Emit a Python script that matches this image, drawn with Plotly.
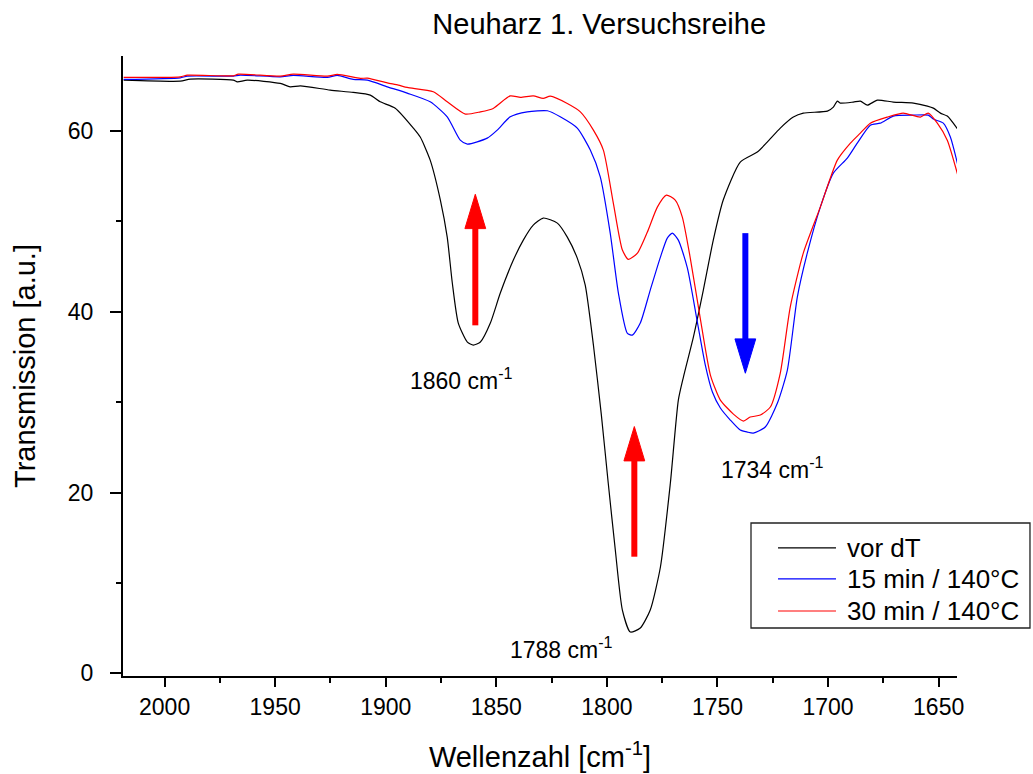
import plotly.graph_objects as go

# spectra (wavenumber in cm-1, transmission in a.u.)
x_vor = [2018.5, 1992.9, 1988.4, 1968.9, 1967.1, 1962.6, 1947.7, 1943.2, 1938.6, 1925.1,
         1914.7, 1907.0, 1902.5, 1895.7, 1887.5, 1884.4, 1879.9, 1875.3, 1872.2, 1869.9,
         1867.2, 1863.1, 1860.4, 1857.2, 1852.7, 1848.2, 1842.3, 1837.8, 1833.3, 1828.8,
         1822.4, 1817.9, 1813.4, 1809.8, 1806.1, 1802.5, 1799.4, 1796.2, 1793.0, 1789.4,
         1784.9, 1780.4, 1775.8, 1771.3, 1767.7, 1765.4, 1760.9, 1756.4, 1751.9, 1747.4,
         1739.7, 1732.0, 1727.5, 1721.6, 1715.7, 1711.2, 1700.3, 1697.6, 1695.8, 1694.5,
         1688.6, 1685.4, 1682.2, 1677.7, 1670.5, 1661.4, 1655.1, 1652.4, 1649.2, 1646.1,
         1641.1]
y_vor = [65.63, 65.52, 65.74, 65.63, 65.44, 65.63, 65.27, 64.89, 65.00, 64.52,
         64.27, 63.97, 63.23, 62.53, 60.32, 59.33, 56.78, 52.36, 48.26, 43.18,
         38.75, 36.65, 36.32, 36.65, 38.75, 42.07, 45.72, 47.93, 49.59, 50.37,
         49.81, 48.26, 45.94, 42.95, 36.32, 28.57, 21.05, 13.64, 7.00, 4.57,
         5.01, 7.00, 11.76, 21.05, 30.23, 32.78, 37.20, 42.40, 47.93, 52.36,
         56.56, 57.67, 58.77, 60.32, 61.54, 61.98, 62.20, 62.64, 63.31, 63.09,
         63.20, 63.31, 62.87, 63.42, 63.20, 63.09, 62.76, 62.53, 61.98, 61.65,
         60.10]

x_15 = [2018.5, 1992.9, 1989.7, 1968.9, 1965.8, 1947.7, 1941.8, 1926.4, 1921.9, 1914.7,
        1908.3, 1899.3, 1894.3, 1890.3, 1879.9, 1872.2, 1866.3, 1863.1, 1854.1, 1849.6,
        1843.7, 1836.0, 1826.9, 1821.1, 1813.4, 1807.5, 1803.0, 1798.5, 1794.8, 1790.8,
        1788.5, 1784.9, 1780.4, 1775.8, 1772.7, 1770.4, 1767.7, 1763.6, 1759.1, 1755.5,
        1752.3, 1748.7, 1744.2, 1739.7, 1736.5, 1733.8, 1728.4, 1722.9, 1718.4, 1713.9,
        1709.4, 1703.5, 1697.6, 1691.3, 1686.8, 1680.9, 1676.4, 1670.5, 1661.4, 1654.7,
        1652.4, 1647.9, 1644.7, 1641.1]
y_15 = [65.71, 65.89, 66.07, 66.07, 66.18, 66.00, 66.15, 65.93, 66.15, 65.71,
        65.63, 64.89, 64.52, 64.19, 63.23, 61.57, 58.99, 58.55, 59.21, 60.10,
        61.57, 62.12, 62.24, 61.57, 60.32, 57.89, 54.93, 48.71, 42.07, 37.64,
        37.42, 38.75, 42.40, 46.05, 48.15, 48.71, 47.93, 44.83, 38.86, 34.10,
        31.12, 29.35, 28.02, 26.91, 26.69, 26.58, 27.25, 29.90, 33.55, 41.63,
        46.49, 51.58, 55.34, 57.00, 58.66, 60.65, 60.87, 61.65, 61.76, 61.76,
        61.32, 60.87, 59.33, 56.01]

x_30 = [2018.5, 1992.9, 1989.7, 1968.9, 1966.7, 1947.7, 1941.8, 1926.4, 1921.9, 1911.5,
        1908.3, 1899.3, 1894.3, 1890.3, 1878.5, 1872.2, 1864.0, 1857.2, 1851.4, 1843.7,
        1839.1, 1833.3, 1828.8, 1825.6, 1817.9, 1812.0, 1806.1, 1801.6, 1797.1, 1793.0,
        1790.3, 1786.2, 1781.7, 1777.2, 1773.1, 1769.1, 1765.9, 1762.3, 1757.8, 1753.2,
        1748.7, 1742.8, 1738.3, 1735.2, 1730.6, 1726.1, 1721.6, 1717.1, 1711.2, 1703.5,
        1695.8, 1689.9, 1685.4, 1680.9, 1673.2, 1666.0, 1658.3, 1654.7, 1650.6, 1646.1,
        1641.1]
y_30 = [65.93, 66.00, 66.18, 66.11, 66.29, 66.07, 66.29, 66.07, 66.26, 65.82,
        65.85, 65.33, 65.08, 64.82, 64.34, 63.23, 61.87, 62.12, 62.50, 63.89,
        63.72, 63.89, 63.61, 63.86, 63.05, 62.12, 60.10, 57.89, 52.03, 46.83,
        45.80, 46.49, 48.82, 51.58, 52.91, 52.36, 50.48, 45.94, 39.30, 33.00,
        30.23, 28.68, 27.91, 28.35, 28.57, 29.46, 33.22, 40.52, 46.49, 51.58,
        56.78, 58.66, 59.77, 60.87, 61.54, 61.98, 61.54, 61.98, 60.87, 58.99,
        54.90]

series_names = ["vor dT", "15 min / 140°C", "30 min / 140°C"]
series_colors = ["black", "blue", "red"]

# peak labels
peak_labels = ["1860 cm<sup>-1</sup>", "1788 cm<sup>-1</sup>", "1734 cm<sup>-1</sup>"]
peak_label_x = [1889.8, 1844.6, 1749.5]
peak_label_y = [32.6, 2.8, 22.7]

# arrows: position, tail and tip
arrow_x = [1859.5, 1787.6, 1737.4]
arrow_tail = [38.5, 12.9, 48.7]
arrow_tip = [53.0, 27.3, 33.2]
arrow_colors = ["red", "red", "blue"]

FONT = "Liberation Sans, Arial, sans-serif"

fig = go.Figure()
for xs, ys, name, col in zip([x_vor, x_15, x_30], [y_vor, y_15, y_30], series_names, series_colors):
    fig.add_trace(go.Scatter(x=xs, y=ys, mode="lines", name=name, showlegend=False,
                             line=dict(color=col, width=1.2, shape="spline", smoothing=0.6)))

head_len = 3.8   # in y units
head_half = 4.7  # in x units
for ax_, tail, tip, col in zip(arrow_x, arrow_tail, arrow_tip, arrow_colors):
    direction = 1 if tip > tail else -1
    base = tip - direction * head_len
    fig.add_shape(type="line", xref="x", yref="y", x0=ax_, x1=ax_, y0=tail, y1=base + direction * 0.3,
                  line=dict(color=col, width=6))
    fig.add_shape(type="path", xref="x", yref="y",
                  path=f"M {ax_ - head_half},{base} L {ax_},{tip} L {ax_ + head_half},{base} Z",
                  fillcolor=col, line=dict(color=col, width=1))

for txt, lx, ly in zip(peak_labels, peak_label_x, peak_label_y):
    fig.add_annotation(x=lx, y=ly, xref="x", yref="y", text=txt, showarrow=False,
                       xanchor="left", yanchor="middle", font=dict(size=23, color="black", family=FONT))

# legend box drawn by hand (the original sticks out past the plot on the right)
leg_x0, leg_x1, leg_y0, leg_y1 = 0.753, 1.0875, 0.0774, 0.2468
leg_rows = [0.2065, 0.1565, 0.1048]
fig.add_shape(type="rect", xref="paper", yref="paper", x0=leg_x0, x1=leg_x1, y0=leg_y0, y1=leg_y1,
              line=dict(color="#222222", width=1.3), fillcolor="white", layer="above")
for name, col, ry in zip(series_names, series_colors, leg_rows):
    fig.add_shape(type="line", xref="paper", yref="paper", x0=0.7854, x1=0.8549, y0=ry, y1=ry,
                  line=dict(color=col, width=1.2), layer="above")
    fig.add_annotation(x=0.8657, y=ry, xref="paper", yref="paper", text=name, showarrow=False,
                       xanchor="left", yanchor="middle", font=dict(size=26, color="black", family=FONT))

fig.update_layout(
    width=1033, height=774,
    margin=dict(l=123, r=76, t=56, b=98),
    paper_bgcolor="white", plot_bgcolor="white",
    font=dict(family=FONT, color="black", size=23),
    title=dict(text="Neuharz 1. Versuchsreihe", x=0.571, xref="paper", xanchor="center",
               y=0.969, yref="container", yanchor="middle", font=dict(size=29, family=FONT)),
    showlegend=False,
)

fig.update_xaxes(range=[2018.8, 1641.7], showline=True, linecolor="black", linewidth=2,
                 ticks="outside", ticklen=9, tickwidth=2, tickcolor="black", dtick=50, tick0=2000,
                 minor=dict(ticks="outside", ticklen=5, tickwidth=2, tickcolor="black", dtick=25),
                 showgrid=False, zeroline=False, mirror=False, automargin=False,
                 tickfont=dict(size=23, family=FONT),
                 title=dict(text="Wellenzahl [cm<sup>-1</sup>]", font=dict(size=29, family=FONT), standoff=28))
fig.update_yaxes(range=[-0.3, 68.3], showline=True, linecolor="black", linewidth=2,
                 ticks="outside", ticklen=11, tickwidth=2, tickcolor="black", dtick=20, tick0=0,
                 minor=dict(ticks="outside", ticklen=5, tickwidth=2, tickcolor="black", dtick=10),
                 showgrid=False, zeroline=False, mirror=False, ticklabelstandoff=12, automargin=False,
                 tickfont=dict(size=23, family=FONT),
                 title=dict(text="Transmission [a.u.]", font=dict(size=29, family=FONT), standoff=24))

# drop the browser's default body margin so the figure sits at the top-left corner
fig.write_html("out.html", config={"displayModeBar": False},
               post_script="document.body.style.margin='0';document.body.style.overflow='hidden';")
